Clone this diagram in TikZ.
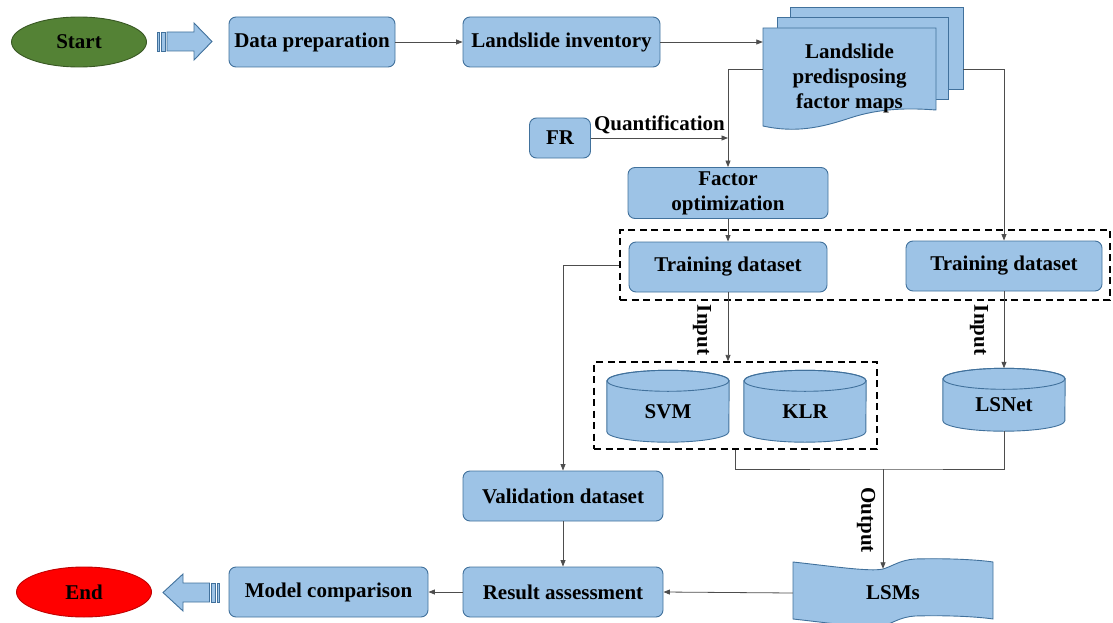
\documentclass[tikz,border=0pt]{standalone}
\usepackage{fontspec}
\setmainfont{Liberation Serif}
\usetikzlibrary{arrows.meta,shapes.geometric,backgrounds}

\definecolor{boxfill}{HTML}{9DC3E6}
\definecolor{boxline}{HTML}{41719C}
\definecolor{startfill}{HTML}{548235}
\definecolor{startline}{HTML}{385723}
\definecolor{endfill}{HTML}{FF0000}
\definecolor{endline}{HTML}{C00000}
\definecolor{wirecol}{HTML}{4D4D4D}

\tikzset{
  every node/.style={font=\fontsize{21}{25}\selectfont\bfseries, text=black},
  box/.style={draw=boxline, fill=boxfill, line width=0.9pt, rounded corners=7pt,
              align=center, inner sep=0pt},
  term/.style={ellipse, line width=0.9pt, inner sep=0pt,
               minimum width=135pt, minimum height=50pt},
  sheet/.style={draw=boxline, fill=boxfill, line width=0.9pt},
  wire/.style={draw=wirecol, line width=0.8pt},
  arr/.style={wire, -{Triangle[length=6.5pt,width=5pt]}},
  group/.style={draw=black, line width=1.3pt, dash pattern=on 7pt off 4.5pt,
                inner sep=0pt},
  drum/.style={inner sep=0pt, minimum width=122pt},
  sidelbl/.style={rotate=-90, inner sep=0pt},
}

% drum (database) outline behind a named node whose north is the top-face centre
\newcommand\drumbody[1]{%
  \filldraw[sheet] (#1.north west) -- ([yshift=10.5pt]#1.south west)
    arc[start angle=180, end angle=360, x radius=61pt, y radius=10.5pt]
    -- (#1.north east)
    arc[start angle=0, end angle=180, x radius=61pt, y radius=10.5pt] -- cycle;
  \draw[sheet, fill=none] (#1.north) ellipse[x radius=61pt, y radius=10.5pt];}

\begin{document}
\begin{tikzpicture}[x=1pt,y=-1pt]
\useasboundingbox (0,0) rectangle (1113,623);

% terminals
\node[term, fill=startfill, draw=startline] (start) at (79,42) {Start};
\node[term, fill=endfill, draw=endline] (end) at (84,592) {End};

% striped block arrow after Start
\filldraw[sheet] (157,32) rectangle (159,51);
\filldraw[sheet] (161,32) rectangle (165,51);
\filldraw[sheet] (167,32) -- (194,32) -- (194,23) -- (212,41.5) -- (194,60)
  -- (194,51) -- (167,51) -- cycle;

% striped block arrow before End
\filldraw[sheet] (217,583) rectangle (219,602);
\filldraw[sheet] (211.5,583) rectangle (215.5,602);
\filldraw[sheet] (209.5,583) -- (183,583) -- (183,574) -- (163,592.5) -- (183,611)
  -- (183,602) -- (209.5,602) -- cycle;

% process boxes
\node[box, minimum width=166pt, minimum height=50pt] (dp) at (312,42) {Data preparation};
\node[box, minimum width=197pt, minimum height=50pt] (inv) at (561.5,42) {Landslide inventory};
\node[box, minimum width=61pt, minimum height=40pt] (fr) at (560,138) {FR};
\node[box, minimum width=200pt, minimum height=51pt] (fo) at (728,193) {Factor\\optimization};
\node[box, minimum width=198pt, minimum height=50pt] (td1) at (728,267) {Training dataset};
\node[box, minimum width=196pt, minimum height=50pt] (td2) at (1004,266) {Training dataset};
\node[box, minimum width=200pt, minimum height=50pt] (vd) at (563,496) {Validation dataset};
\node[box, minimum width=200pt, minimum height=50pt] (ra) at (563,592) {Result assessment};
\node[box, minimum width=199pt, minimum height=50pt] (mc) at (328.5,592) {Model comparison};

% stacked factor map sheets
\filldraw[sheet] (790,7) rectangle (963,89);
\filldraw[sheet] (777,17) rectangle (948,99);
\filldraw[sheet] (763,28) -- (936,28) -- (936,110)
  .. controls (910,108) and (880,108) .. (850,118)
  .. controls (820,128) and (795,133) .. (763,126) -- cycle;
\node[align=center, minimum width=173pt, inner sep=0pt] (maps) at (849.5,78)
  {Landslide\\predisposing\\factor maps};
\coordinate (mapsL) at (763,69);
\coordinate (mapsR) at (963,69);

% dashed groups
\node[group, minimum width=490pt, minimum height=70pt] (g1) at (865,265) {};
\node[group, minimum width=283pt, minimum height=87pt] (g2) at (735.5,405.5) {};

% models
\node[drum, minimum height=61pt] (svm) at (668,411.5) {SVM};
\node[drum, minimum height=61pt] (klr) at (805,411.5) {KLR};
\node[drum, minimum height=52pt] (lsnet) at (1004,405) {LSNet};

% susceptibility maps
\node[minimum width=200pt, minimum height=48pt, inner sep=0pt] (lsms) at (893,593) {LSMs};

\begin{scope}[on background layer]
  \drumbody{svm}
  \drumbody{klr}
  \drumbody{lsnet}
  \filldraw[sheet] (793,562) .. controls (830,566) and (870,572) .. (883,569)
    .. controls (893,566) and (900,560) .. (915,559)
    .. controls (950,558) and (980,560) .. (993,562)
    -- (993,619) .. controls (980,617) and (950,615) .. (915,616)
    .. controls (900,617) and (893,623) .. (883,626)
    .. controls (870,629) and (830,623) .. (793,619) -- cycle;
\end{scope}

% connectors
\draw[arr] (dp) -- (inv);
\draw[arr] (inv.east) -- (inv.east -| maps.west);
\draw[arr] (mapsL) -| (fo.north);
\draw[arr] (fr.east) -- (fr.east -| fo.north)
  node[midway, above=4pt, inner sep=0pt] (quant) {Quantification};
\draw[arr] (fo) -- (td1);
\draw[arr] (mapsR) -| (td2.north);
\draw[arr] (g1.west) -| (vd.north);
\draw[arr] (td1.south) -- (td1.south |- g2.north);
\node[sidelbl] (in1) at (702,330) {Input};
\draw[arr] (td2.south) -- ([yshift=10.5pt]lsnet.north);
\node[sidelbl] (in2) at (979,330) {Input};
\coordinate (merge) at (883,469);
\draw[wire] (g2.south) |- (merge) -| (lsnet.south);
\draw[arr] (merge) -- (merge |- lsms.north);
\node[sidelbl] (outl) at (866,520) {Output};
\draw[arr] (vd) -- (ra);
\draw[arr] (lsms.west) -- (ra.east);
\draw[arr] (ra.west) -- (ra.west -| mc.east);
\end{tikzpicture}
\end{document}
